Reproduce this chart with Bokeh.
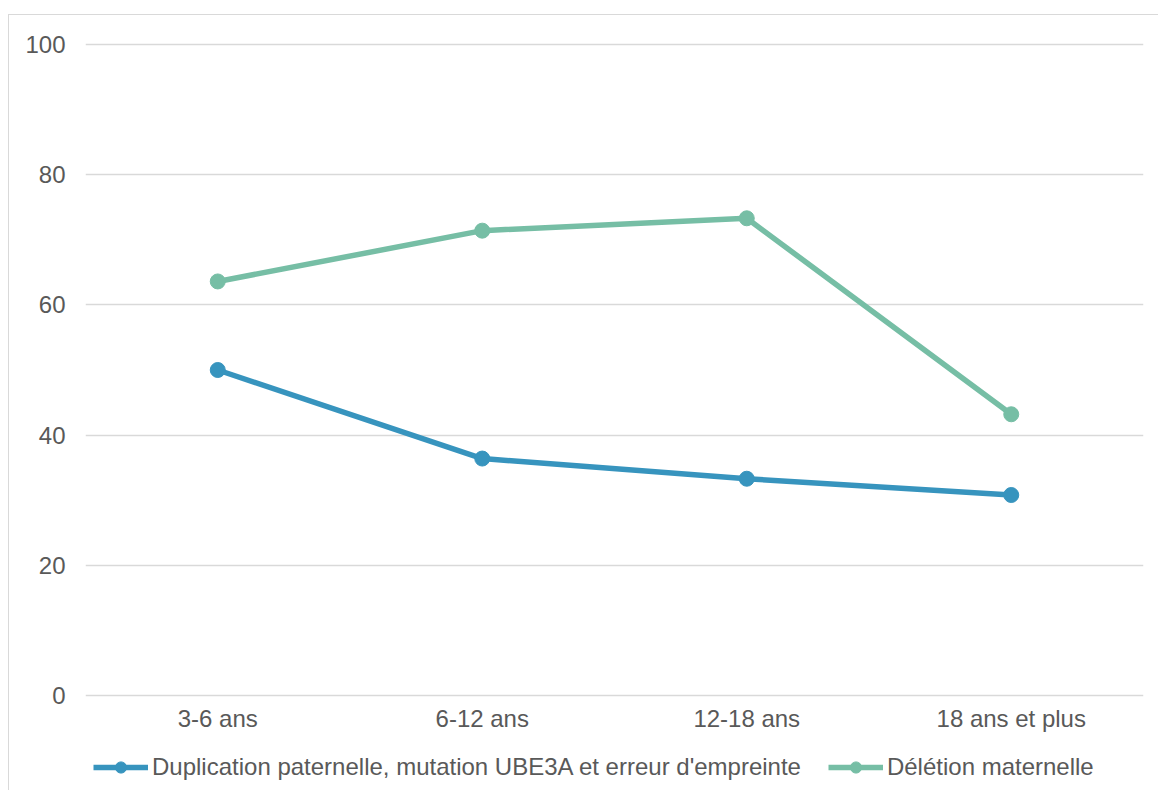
from bokeh.plotting import figure
from bokeh.layouts import column
from bokeh.models import FactorRange, Range1d, FixedTicker, Legend, LegendItem
from bokeh.embed import file_html
from bokeh.resources import INLINE

categories = ["3-6 ans", "6-12 ans", "12-18 ans", "18 ans et plus"]
duplication = [50.0, 36.4, 33.3, 30.8]
deletion = [63.6, 71.4, 73.3, 43.2]
y_ticks = [0, 20, 40, 60, 80, 100]
series_names = ["Duplication paternelle, mutation UBE3A et erreur d'empreinte", "Délétion maternelle"]

BLUE = "#3794BE"
GREEN = "#76BEA5"
TXT = "#595959"
FONT = "Liberation Sans"
FS = "24px"
BORDER = "1px solid #d9d9d9"

# main chart
p = figure(x_range=FactorRange(factors=categories, range_padding=0, factor_padding=0),
           y_range=Range1d(-0.3, 100.3),
           width=1150, height=730, output_backend="svg", toolbar_location=None,
           min_border_left=76, min_border_right=16, min_border_top=27, min_border_bottom=48)
p.margin = (14, 0, 0, 8)
p.styles = {"border-top": BORDER, "border-left": BORDER}
p.outline_line_color = None
p.background_fill_color = "white"

p.xgrid.grid_line_color = None
p.ygrid.grid_line_color = "#d9d9d9"
p.ygrid.grid_line_width = 1.5
p.yaxis.ticker = FixedTicker(ticks=y_ticks)
for ax in (p.xaxis[0], p.yaxis[0]):
    ax.axis_line_color = None
    ax.major_tick_line_color = None
    ax.minor_tick_line_color = None
    ax.major_tick_out = 0
    ax.major_tick_in = 0
    ax.major_label_text_font = FONT
    ax.major_label_text_font_size = FS
    ax.major_label_text_color = TXT
p.yaxis.major_label_standoff = 20
p.xaxis.major_label_standoff = 7

series = [(duplication, BLUE, series_names[0]), (deletion, GREEN, series_names[1])]
for vals, col, name in series:
    p.line(categories, vals, line_color=col, line_width=5.5)
    p.scatter(categories, vals, size=15, fill_color=col, line_color=col)

# legend strip under the chart
lf = figure(x_range=FactorRange(factors=categories), y_range=Range1d(0, 100),
            width=1150, height=46, x_axis_type=None, y_axis_type=None,
            output_backend="svg", toolbar_location=None, min_border=0)
lf.margin = (0, 0, 0, 8)
lf.styles = {"border-left": BORDER}
lf.outline_line_color = None
lf.background_fill_color = "white"

items = []
for vals, col, name in series:
    l = lf.line(categories, vals, line_color=col, line_width=5.5, visible=False)
    s = lf.scatter(categories, vals, size=15, fill_color=col, line_color=col, visible=False)
    items.append(LegendItem(label=name, renderers=[l, s]))

legend = Legend(items=items, orientation="horizontal", location="center_left",
                glyph_width=55, glyph_height=28, label_standoff=4, spacing=27,
                padding=0, margin=8, border_line_color=None, background_fill_alpha=0,
                label_text_font=FONT, label_text_font_size=FS, label_text_color=TXT,
                click_policy="none")
lf.add_layout(legend)

layout = column(p, lf, spacing=0)
open("out.html", "w").write(file_html(layout, INLINE))
